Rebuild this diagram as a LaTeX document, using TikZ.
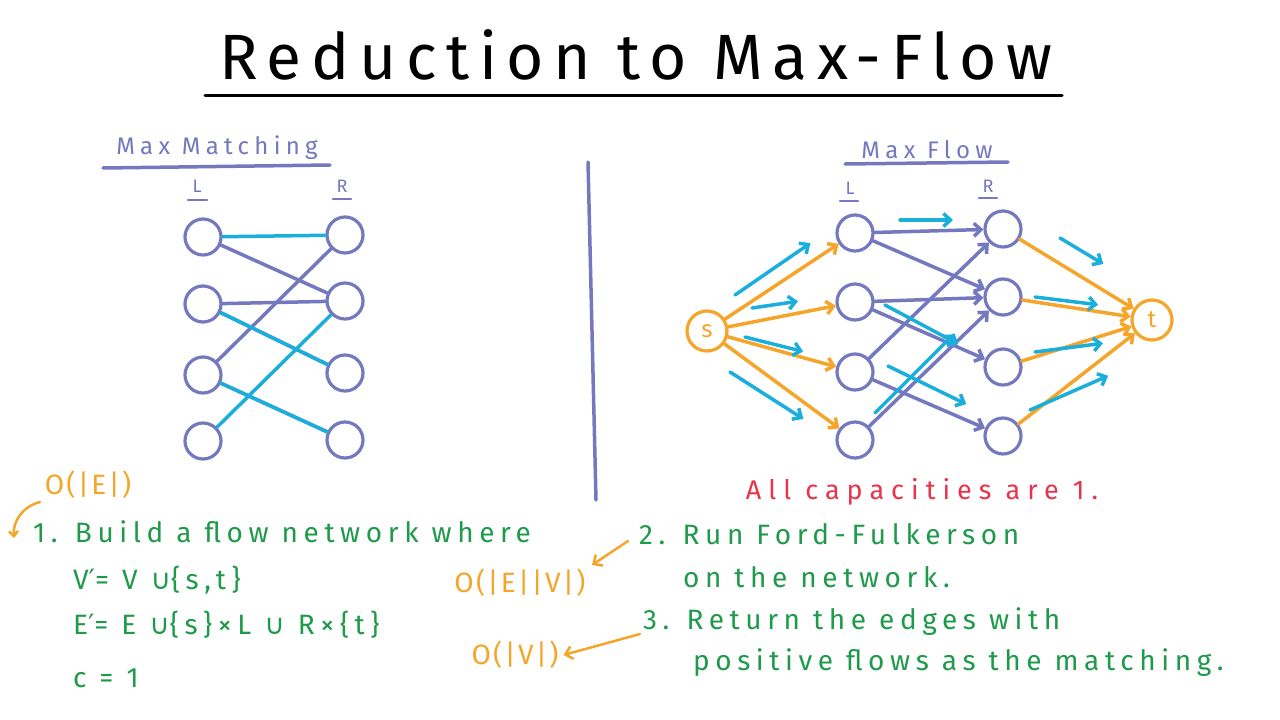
\documentclass[tikz,border=0pt]{standalone}
\usepackage{fontspec}
\setmainfont{Fira Sans}
\newfontfamily\symf{DejaVu Sans}
\usetikzlibrary{arrows.meta}
\definecolor{pur}{HTML}{7478BE}
\definecolor{cy}{HTML}{1AAEDD}
\definecolor{org}{HTML}{F5A52A}
\definecolor{grn}{HTML}{1E9A4A}
\definecolor{rd}{HTML}{E8334A}
\newcommand{\sy}[1]{{\symf #1}}
\newcommand{\ls}[1]{\addfontfeature{LetterSpace=#1}}
\begin{document}
\begin{tikzpicture}[x=1pt,y=-1pt,line width=3.5pt,line cap=round,
  v/.style={circle,draw=pur,minimum size=36pt,inner sep=0pt,line width=3.2pt},
  pe/.style={pur},
  ce/.style={cy},
  ar/.style={-{Straight Barb[length=7pt,width=13pt]}},
  fl/.style={cy,ar,shorten >=2pt},
  gt/.style={text=grn,font=\fontsize{28}{30}\selectfont\ls{20},anchor=west},
  ot/.style={text=org,font=\fontsize{28}{30}\selectfont\ls{8}}]
\useasboundingbox (0,0) rectangle (1280,720);
\node[font=\fontsize{64}{68}\selectfont\ls{15}] (title) at (636,55) {Reduction to Max-Flow};
\draw[line width=3pt] (205,95) -- (1062,95);
\draw[pur,line width=3.5pt] (588,162) -- (596,500);
% left
\node[pur,font=\fontsize{24}{26}\selectfont\ls{22}] (mm) at (217,148) {Max Matching};
\draw[pur] (103,168) -- (330,165);
\node[pur,font=\fontsize{18}{20}\selectfont] (ll) at (197,186) {L};
\draw[pur,line width=2.5pt] (188,200) -- (207,200);
\node[pur,font=\fontsize{18}{20}\selectfont] (lr) at (342,186) {R};
\draw[pur,line width=2.5pt] (333,199) -- (351,199);
\foreach \i/\y in {1/237,2/304,3/375,4/441} \node[v] (a\i) at (203,\y) {};
\foreach \i/\y in {1/235,2/301,3/373,4/440} \node[v] (b\i) at (345,\y) {};
\draw[pe] (a1) -- (b2); \draw[pe] (a2) -- (b2); \draw[pe] (a3) -- (b1);
\draw[pe] (a2) -- (b3); \draw[pe] (a3) -- (b4);
\draw[ce] (a1) -- (b1); \draw[ce] (a2) -- (b3); \draw[ce] (a3) -- (b4); \draw[ce] (a4) -- (b2);
% right
\node[pur,font=\fontsize{24}{26}\selectfont\ls{22}] (mf) at (927,150) {Max Flow};
\draw[pur] (845,164) -- (1008,162);
\node[pur,font=\fontsize{18}{20}\selectfont] (rl) at (850,188) {L};
\draw[pur,line width=2.5pt] (840,201) -- (858,201);
\node[pur,font=\fontsize{18}{20}\selectfont] (rr) at (988,186) {R};
\draw[pur,line width=2.5pt] (979,198) -- (997,198);
\node[circle,draw=org,line width=3.2pt,minimum size=40pt,inner sep=0pt,text=org,font=\fontsize{24}{26}\selectfont] (s) at (707,331) {s};
\node[circle,draw=org,line width=3.2pt,minimum size=40pt,inner sep=0pt,text=org,font=\fontsize{24}{26}\selectfont] (t) at (1152,320) {t};
\foreach \i/\y in {1/233,2/302,3/372,4/440} \node[v] (c\i) at (855,\y) {};
\foreach \i/\y in {1/229,2/297,3/367,4/436} \node[v] (d\i) at (1003,\y) {};
\foreach \i in {1,...,4} {\draw[org,ar] (s) -- (c\i); \draw[org,ar] (d\i) -- (t);}
\foreach \a/\b in {1/1,1/2,2/2,2/3,3/1,3/4,4/2} \draw[pur,ar] (c\a) -- (d\b);
% flow arrows
\coordinate (f1a) at (735,295); \coordinate (f1b) at (812,242);
\coordinate (f2a) at (752,308); \coordinate (f2b) at (800,301);
\coordinate (f3a) at (745,337); \coordinate (f3b) at (805,352);
\coordinate (f4a) at (730,372); \coordinate (f4b) at (805,420);
\draw[fl] (f1a) -- (f1b); \draw[fl] (f2a) -- (f2b); \draw[fl] (f3a) -- (f3b); \draw[fl] (f4a) -- (f4b);
\coordinate (g1a) at (900,220); \coordinate (g1b) at (955,220);
\coordinate (g2a) at (885,305); \coordinate (g2b) at (960,345);
\coordinate (g3a) at (875,413); \coordinate (g3b) at (955,333);
\coordinate (g4a) at (888,366); \coordinate (g4b) at (968,405);
\draw[fl] (g1a) -- (g1b); \draw[fl] (g2a) -- (g2b); \draw[fl] (g3a) -- (g3b); \draw[fl] (g4a) -- (g4b);
\coordinate (h1a) at (1060,238); \coordinate (h1b) at (1105,265);
\coordinate (h2a) at (1035,297); \coordinate (h2b) at (1100,305);
\coordinate (h3a) at (1035,352); \coordinate (h3b) at (1105,343);
\coordinate (h4a) at (1030,410); \coordinate (h4b) at (1110,375);
\draw[fl] (h1a) -- (h1b); \draw[fl] (h2a) -- (h2b); \draw[fl] (h3a) -- (h3b); \draw[fl] (h4a) -- (h4b);
\node[text=rd,font=\fontsize{27}{30}\selectfont\ls{26}] (cap) at (922,492) {All capacities are 1.};
% bottom text
\node[ot] (o1) at (88,485) {O(|E|)};
\coordinate (o1t) at (14,538);
\draw[org,-{Straight Barb[length=5pt,width=9pt]},line width=2.5pt] (40,502) to[bend right=40] (o1t);
\node[gt] (s1) at (28,532) {1. Build a flow network where};
\node[gt] (s1a) at (68,580) {V\sy{′}= V \sy{∪}\{s,t\}};
\node[gt] (s1b) at (68,625) {E\sy{′}= E \sy{∪}\{s\}×L \sy{∪} R×\{t\}};
\node[gt] (s1c) at (68,678) {c = 1};
\node[gt] (s2) at (634,534) {2. Run Ford-Fulkerson};
\node[gt] (s2a) at (678,577) {on the network.};
\node[ot] (o2) at (520,583) {O(|E||V|)};
\node[ot] (o3) at (515,655) {O(|V|)};
\draw[org,ar,line width=2.5pt] (628,541) -- (592,565);
\draw[org,ar,line width=2.5pt] (640,634) -- (o3.east);
\node[gt] (s3) at (638,622) {3. Return the edges with};
\node[gt] (s3a) at (688,663) {positive flows as the matching.};
\end{tikzpicture}
\end{document}
